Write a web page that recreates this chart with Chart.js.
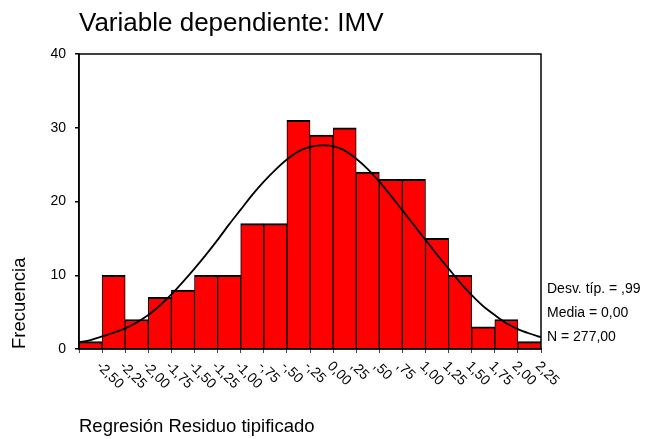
<!DOCTYPE html>
<html>
<head>
<meta charset="utf-8">
<script src="https://cdn.jsdelivr.net/npm/chart.js@4/dist/chart.umd.min.js"></script>
<style>
  html, body { margin: 0; padding: 0; background: #fff; }
  canvas { display: block; }
</style>
</head>
<body>
<canvas id="c" width="646" height="439"></canvas>
<script>
const chartTitle = 'Variable dependiente: IMV';
const xTitle = 'Regresión Residuo tipificado';
const yTitle = 'Frecuencia';
const categories = ['-2,50','-2,25','-2,00','-1,75','-1,50','-1,25','-1,00','-,75','-,50','-,25','0,00',',25',',50',',75','1,00','1,25','1,50','1,75','2,00','2,25'];
const binCenters = [-2.5,-2.25,-2.0,-1.75,-1.5,-1.25,-1.0,-0.75,-0.5,-0.25,0,0.25,0.5,0.75,1.0,1.25,1.5,1.75,2.0,2.25];
const frequencies = [1, 10, 4, 7, 8, 10, 10, 17, 17, 31, 29, 30, 24, 23, 23, 15, 10, 3, 4, 1];
const curveX = [-2.625,-2.5,-2.375,-2.25,-2.125,-2.0,-1.875,-1.75,-1.625,-1.5,-1.375,-1.25,-1.125,-1.0,-0.875,-0.75,-0.625,-0.5,-0.375,-0.25,-0.125,0,0.125,0.25,0.375,0.5,0.625,0.75,0.875,1.0,1.125,1.25,1.375,1.5,1.625,1.75,1.875,2.0,2.125,2.25,2.375];
const curveY = [0.9,1.2,1.7,2.2,2.8,3.6,4.6,5.9,7.4,9.1,10.9,12.8,14.8,16.9,18.9,20.9,22.7,24.3,25.7,26.8,27.4,27.6,27.5,26.9,25.8,24.4,22.7,20.8,18.8,16.8,14.8,12.8,10.9,9.0,7.3,5.8,4.6,3.5,2.7,2.1,1.6];
const xRange = [-2.625, 2.375];
const yTicks = [0, 10, 20, 30, 40];
const statsLines = ['Desv. típ. = ,99', 'Media = 0,00', 'N = 277,00'];

const FONT = '"Liberation Sans", Arial, Helvetica, sans-serif';

const overlay = {
  id: 'overlay',
  afterDraw(chart) {
    const { ctx, chartArea: a, scales: { x } } = chart;
    ctx.save();
    ctx.strokeStyle = '#000';
    ctx.lineWidth = 1.5;
    ctx.strokeRect(a.left, a.top, a.right - a.left, a.bottom - a.top);

    ctx.fillStyle = '#000';
    ctx.textAlign = 'left';
    ctx.textBaseline = 'alphabetic';
    ctx.font = '26px ' + FONT;
    ctx.fillText(chartTitle, a.left, 30.5);

    ctx.font = '14px ' + FONT;
    categories.forEach((lab, i) => {
      const px = x.getPixelForValue(binCenters[i]);
      ctx.save();
      ctx.translate(px + 8, a.bottom + 15);
      ctx.rotate(Math.PI / 4);
      ctx.textBaseline = 'middle';
      ctx.textAlign = 'left';
      ctx.fillText(lab, 0, 0);
      ctx.restore();
    });

    ctx.textBaseline = 'alphabetic';
    statsLines.forEach((s, i) => ctx.fillText(s, a.right + 6, 293 + i * 24));
    ctx.restore();
  }
};

new Chart(document.getElementById('c'), {
  type: 'bar',
  data: {
    datasets: [
      {
        type: 'line',
        data: curveX.map((v, i) => ({ x: v, y: curveY[i] })),
        borderColor: '#000',
        borderWidth: 1.8,
        pointRadius: 0,
        fill: false,
        tension: 0.3,
        order: 0
      },
      {
        type: 'bar',
        data: binCenters.map((v, i) => ({ x: v, y: frequencies[i] })),
        backgroundColor: '#ff0000',
        borderColor: '#000',
        borderWidth: { top: 2, left: 1, right: 1, bottom: 0 },
        borderSkipped: false,
        categoryPercentage: 1,
        barPercentage: 1,
        grouped: false,
        order: 1
      }
    ]
  },
  options: {
    responsive: false,
    animation: false,
    devicePixelRatio: 1,
    layout: { padding: { top: 54, right: 105, bottom: 0, left: 0 } },
    plugins: { legend: { display: false }, tooltip: { enabled: false }, title: { display: false } },
    scales: {
      x: {
        type: 'linear',
        min: xRange[0],
        max: xRange[1],
        offset: false,
        afterBuildTicks: (s) => { s.ticks = binCenters.map(v => ({ value: v })); },
        grid: { display: true, drawOnChartArea: false, drawTicks: true, tickLength: 4, color: '#444', lineWidth: 1 },
        border: { display: true, color: '#000', width: 1.5 },
        ticks: { display: false },
        title: { display: true, text: xTitle, align: 'start', color: '#000', font: { family: FONT, size: 18.5 }, padding: { top: 62.8, bottom: 1 } }
      },
      y: {
        min: 0,
        max: 40,
        afterBuildTicks: (s) => { s.ticks = yTicks.map(v => ({ value: v })); },
        afterFit: (s) => { s.width = 79; },
        grid: { display: true, drawOnChartArea: false, drawTicks: true, tickLength: 4, color: '#000', lineWidth: 1.5 },
        border: { display: true, color: '#000', width: 1.5 },
        ticks: { color: '#000', padding: 9, font: { family: FONT, size: 14 } },
        title: { display: true, text: yTitle, align: 'start', color: '#000', font: { family: FONT, size: 18.5 }, padding: { top: 9, bottom: 0 } }
      }
    }
  },
  plugins: [overlay]
});
</script>
</body>
</html>
